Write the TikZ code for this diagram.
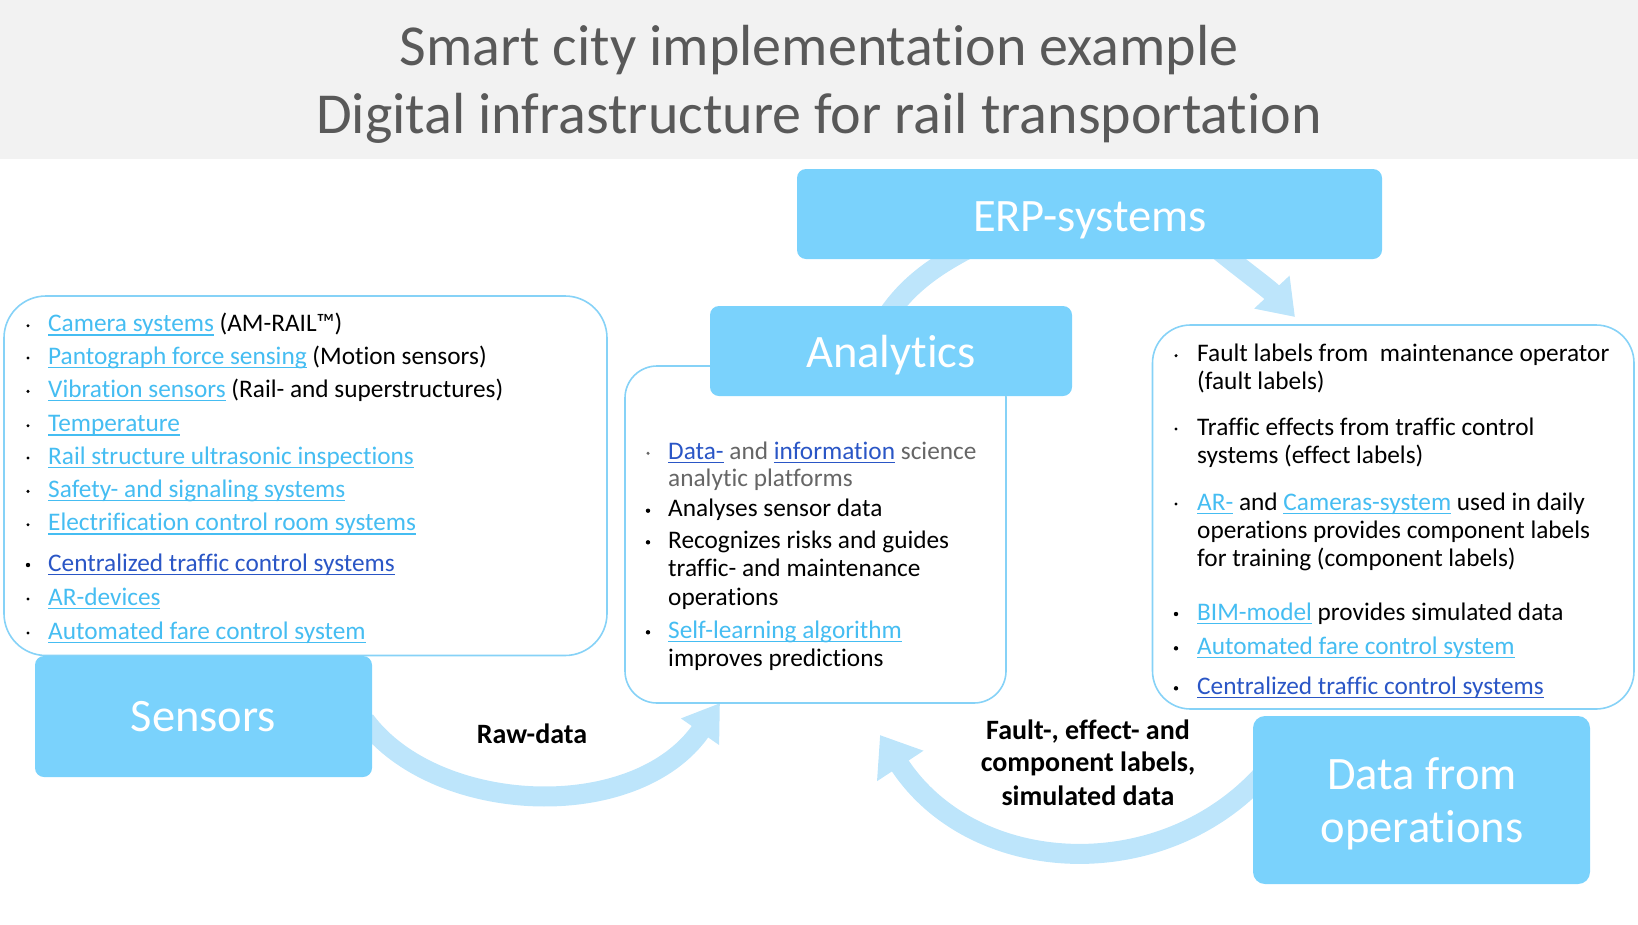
\documentclass[tikz,border=0pt]{standalone}
\usepackage{fontspec}
\setmainfont{Carlito}[Ligatures=NoCommon]
\usetikzlibrary{arrows.meta,calc,backgrounds}
\definecolor{titlebg}{HTML}{F2F2F2}
\definecolor{titlec}{HTML}{595959}
\definecolor{boxc}{HTML}{7AD2FC}
\definecolor{arrc}{HTML}{BDE5FB}
\definecolor{panelc}{HTML}{86D2F7}
\definecolor{lnk}{HTML}{45BDF2}
\definecolor{dlnk}{HTML}{2A56C6}
\definecolor{graytxt}{HTML}{666666}
\newsavebox{\ulbox}
\newcommand{\ulx}[1]{\sbox{\ulbox}{#1}\rlap{\rule[-4pt]{\wd\ulbox}{1.4pt}}\usebox{\ulbox}}
\newcommand{\lk}[1]{{\color{lnk}\ulx{#1}}}
\newcommand{\dk}[1]{{\color{dlnk}\ulx{#1}}}
\tikzset{
  box/.style={fill=boxc, draw=none, rounded corners=9pt, inner sep=0pt, outer sep=0pt},
  panel/.style={draw=panelc, line width=1.6pt, fill=white, inner sep=0pt, outer sep=0pt},
  boxlabel/.style={anchor=base, inner sep=0pt, text=white, font=\fontsize{46.5}{50}\selectfont},
  txt/.style={anchor=base west, inner sep=0pt, font=\fontsize{25.3}{30}\selectfont},
  bul/.style={circle, fill=black, inner sep=0pt, minimum size=3.4pt},
  bigbul/.style={circle, fill=black, inner sep=0pt, minimum size=4.4pt},
  flow/.style={draw=arrc, line width=20pt},
  lbl/.style={anchor=base, inner sep=0pt, font=\bfseries\fontsize{28}{32}\selectfont},
  ttl/.style={anchor=base, inner sep=0pt, text=titlec, font=\fontsize{58}{60}\selectfont},
}
\begin{document}
\begin{tikzpicture}[x=1pt,y=-1pt]
\useasboundingbox (0,0) rectangle (1638,924);
% title
\node[fill=titlebg, inner sep=0pt, outer sep=0pt, minimum width=1638pt, minimum height=158.5pt] (titlebar) at (819,79.25) {};
\node[ttl] (t1) at (819,65.7) {Smart city implementation example};
\node[ttl] (t2) at (819,133.3) {Digital infrastructure for rail transportation};

% panels
\node[panel, rounded corners=42pt, minimum width=603pt, minimum height=359.5pt] (sensbody) at (305.5,475.75) {};
\node[panel, rounded corners=32pt, minimum width=381pt, minimum height=337pt] (anbody) at (815.5,534.5) {};
\node[panel, rounded corners=38pt, minimum width=481.5pt, minimum height=384pt] (opsbody) at (1393.25,517) {};

% boxes
\node[box, minimum width=585pt, minimum height=90pt] (erp) at (1089.5,214) {};
\node[box, minimum width=362pt, minimum height=90pt] (anhead) at (891,351) {};
\node[box, minimum width=337pt, minimum height=121pt] (sensors) at (203.5,716.5) {};
\node[box, rounded corners=12pt, minimum width=337pt, minimum height=168pt] (ops) at (1421.5,800) {};

\node[boxlabel] (erpL) at (1090,231) {ERP-systems};
\node[boxlabel] (anL) at (891,367.3) {Analytics};
\node[boxlabel] (sensL) at (203.5,731.7) {Sensors};
\node[boxlabel] (opsL1) at (1422,789.3) {Data from};
\node[boxlabel] (opsL2) at (1422,842.7) {operations};

% connectors
\begin{scope}[on background layer]
\draw[flow, -{Triangle[length=35pt,width=44pt]}] ($(sensors.east)+(-7,4)$) .. controls (435,815) and (635,825) .. ($(anbody.south west)+(95,0)$);
\draw[flow] ($(anhead.north west)+(168,24)$) .. controls (900,293) and (925,268) .. ($(erp.south west)+(193,-21)$);
\draw[flow, -{Triangle[length=34pt,width=46pt]}] ($(erp.south west)+(413,-16)$) .. controls (1240,268) and (1268,288) .. ($(opsbody.north west)+(142.5,-8)$);
\draw[flow, -{Triangle[length=37pt,width=53pt]}] ($(ops.west)+(17,-34)$) .. controls (1170,887) and (975,880) .. ($(anbody.south west)+(255,32)$);
\end{scope}

\node[lbl] (raw) at (532,743.3) {Raw-data};
\node[lbl] (fl1) at (1088,739) {Fault-, effect- and};
\node[lbl] (fl2) at (1088,771.7) {component labels,};
\node[lbl] (fl3) at (1088,805) {simulated data};

% sensors list
\foreach \n/\y in {1/331.7,2/364,3/397.3,4/431.7,5/464,6/497.3,7/530.7,9/605,10/639}
  \node[bul] (sb\n) at (28,\y-6) {};
\node[bigbul] (sb8) at (28,565) {};
\node[txt] (s1) at (48,331.7) {\lk{Camera systems} (AM-RAIL™)};
\node[txt] (s2) at (48,364) {\lk{Pantograph force sensing} (Motion sensors)};
\node[txt] (s3) at (48,397.3) {\lk{Vibration sensors} (Rail- and superstructures)};
\node[txt] (s4) at (48,431.7) {\lk{Temperature}};
\node[txt] (s5) at (48,464) {\lk{Rail structure ultrasonic inspections}};
\node[txt] (s6) at (48,497.3) {\lk{Safety- and signaling systems}};
\node[txt] (s7) at (48,530.7) {\lk{Electrification control room systems}};
\node[txt] (s8) at (48,571) {\dk{Centralized traffic control systems}};
\node[txt] (s9) at (48,605) {\lk{AR-devices}};
\node[txt] (s10) at (48,639) {\lk{Automated fare control system}};

% analytics list
\node[bul, fill=graytxt] (ab1) at (648,453.3) {};
\foreach \n/\y in {2/516.7,3/548.3,4/638.3}
  \node[bigbul] (ab\n) at (648,\y-6) {};
\node[txt] (a1) at (668,459.3) {\dk{Data-} \textcolor{graytxt}{and} \dk{information} \textcolor{graytxt}{science}};
\node[txt, text=graytxt] (a1b) at (668,486.7) {analytic platforms};
\node[txt] (a2) at (668,516.7) {Analyses sensor data};
\node[txt] (a3) at (668,548.3) {Recognizes risks and guides};
\node[txt] (a3b) at (668,576.7) {traffic- and maintenance};
\node[txt] (a3c) at (668,605) {operations};
\node[txt] (a4) at (668,638.3) {\lk{Self-learning algorithm}};
\node[txt] (a4b) at (668,666.7) {improves predictions};

% operations list
\foreach \n/\y in {1/361.7,2/435,3/510}
  \node[bul] (rb\n) at (1176,\y-6) {};
\foreach \n/\y in {4/620,5/654.3,6/694.3}
  \node[bigbul] (rb\n) at (1176,\y-6) {};
\node[txt] (r1) at (1197,361.7) {Fault labels from\ \ maintenance operator};
\node[txt] (r1b) at (1197,389) {(fault labels)};
\node[txt] (r2) at (1197,435) {Traffic effects from traffic control};
\node[txt] (r2b) at (1197,463.3) {systems (effect labels)};
\node[txt] (r3) at (1197,510) {\lk{AR-} and \lk{Cameras-system} used in daily};
\node[txt] (r3b) at (1197,538.3) {operations provides component labels};
\node[txt] (r3c) at (1197,566) {for training (component labels)};
\node[txt] (r4) at (1197,620) {\lk{BIM-model} provides simulated data};
\node[txt] (r5) at (1197,654.3) {\lk{Automated fare control system}};
\node[txt] (r6) at (1197,694.3) {\dk{Centralized traffic control systems}};
\end{tikzpicture}
\end{document}
